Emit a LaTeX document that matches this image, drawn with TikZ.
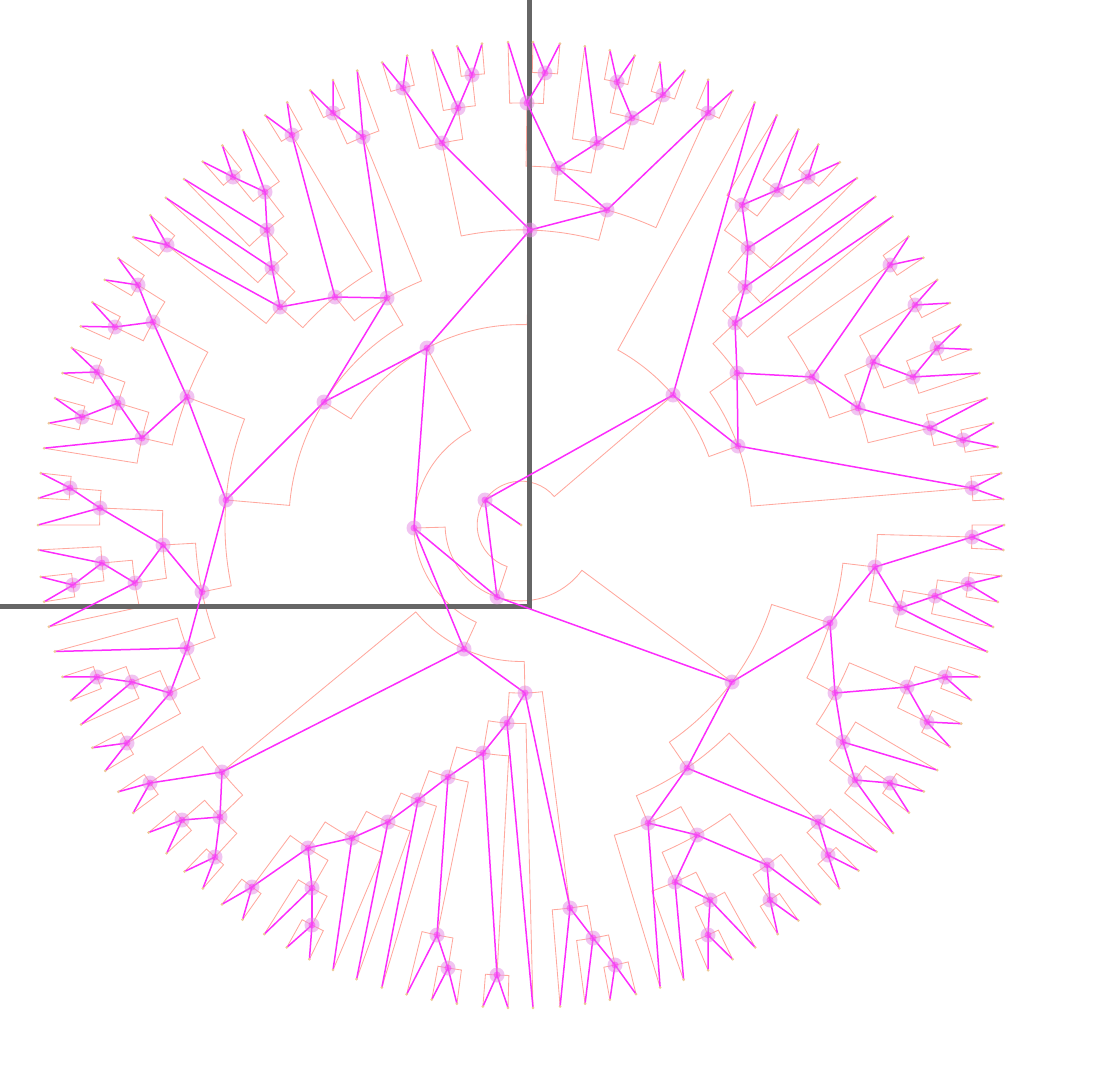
\documentclass[tikz,border=0pt]{standalone}
\usetikzlibrary{calc}
\pgfdeclarelayer{bg}\pgfdeclarelayer{fg}\pgfsetlayers{bg,main,fg}
\definecolor{magc}{RGB}{252,45,252}
\definecolor{salc}{RGB}{255,168,158}
\definecolor{blobc}{RGB}{228,135,228}
\definecolor{leafc}{RGB}{238,200,150}
\definecolor{axc}{RGB}{102,102,102}
\tikzset{
  mag/.style={draw=magc,line width=1.5pt},
  sal/.style={draw=salc,line width=0.85pt},
  blob/.style={fill=blobc,opacity=0.5},
  core/.style={fill=magc,opacity=0.5},
  leafdot/.style={fill=leafc},
  axisline/.style={draw=axc,line width=5pt}
}
\newcommand\TEdge[2]{%
  \begin{pgfonlayer}{bg}
  \draw[sal] let \p1=($(#2)-(O)$), \p2=($(#1)-(O)$),
    \n1={atan2(\y1,\x1)}, \n2={atan2(\y2,\x2)}, \n3={veclen(\x2,\y2)},
    \n4={mod(\n2-\n1+540,360)-180} in
    (#2) -- ($(O)+(\n1:\n3)$) arc[start angle=\n1, delta angle=\n4, radius=\n3];
  \end{pgfonlayer}
  \draw[mag] (#1) -- (#2);}
\newcommand\TNode[3]{%
  \coordinate (#1) at (#2);
  \TEdge{#3}{#1}%
  \begin{pgfonlayer}{fg}
  \fill[blob] (#1) circle (7.5pt);
  \fill[core] (#1) circle (3.5pt);
  \end{pgfonlayer}}
\newcommand\TLeaf[3]{%
  \coordinate (#1) at ($(O)!483pt!(#2)$);
  \TEdge{#3}{#1}%
  \begin{pgfonlayer}{fg}
  \fill[leafdot] (#1) circle (1.5pt);
  \end{pgfonlayer}}
\begin{document}
\begin{tikzpicture}[x=1pt,y=-1pt]
\useasboundingbox (0,0) rectangle (1102,1070);
% axes
\coordinate (ax1) at (529,0);
\coordinate (ax2) at (529,606);
\coordinate (ax3) at (0,606);
\draw[axisline] (ax1) -- (ax2) -- (ax3);
% root
\coordinate (O) at (521,525);
\coordinate (R) at (521,525);
\coordinate (a1) at (485,500);
\begin{pgfonlayer}{bg}\draw[sal] (a1) -- (R);\end{pgfonlayer}
\draw[mag] (R) -- (a1);
\begin{pgfonlayer}{fg}
\fill[blob] (a1) circle (7.5pt); \fill[core] (a1) circle (3.5pt);
\fill[leafdot] (R) circle (1.5pt);
\end{pgfonlayer}
% internal nodes
\TNode{b1}{673,395}{a1}
\TNode{b2}{497,597}{a1}
\TNode{c1}{414,528}{b2}
\TNode{c2}{732,682}{b2}
\TNode{d1}{427,348}{c1}
\TNode{d2}{464,649}{c1}
\TNode{e1}{324,402}{d1}
\TNode{e2}{530,230}{d1}
\TNode{f1}{442,143}{e2}
\TNode{f2}{607,210}{e2}
\TNode{g1}{558,168}{f2}
\TNode{g2}{708,113}{f2}
\TNode{h1}{527,103}{g1}
\TNode{h2}{597,143}{g1}
\TNode{h3}{545,73}{h1}
\TNode{h4}{632,118}{h2}
\TNode{h5}{617,82}{h4}
\TNode{h6}{663,95}{h4}
\TNode{f3}{403,88}{f1}
\TNode{f4}{458,108}{f1}
\TNode{f5}{472,75}{f4}
\TNode{k1}{387,298}{e1}
\TNode{k2}{226,500}{e1}
\TNode{k3}{363,137}{k1}
\TNode{k4}{333,113}{k3}
\TNode{k5}{335,297}{k1}
\TNode{k6}{292,135}{k5}
\TNode{k7}{280,307}{k5}
\TNode{k8}{272,268}{k7}
\TNode{k9}{267,230}{k8}
\TNode{k10}{265,192}{k9}
\TNode{k11}{233,177}{k10}
\TNode{k12}{167,245}{k7}
\TNode{m1}{187,397}{k2}
\TNode{m2}{153,322}{m1}
\TNode{m3}{138,285}{m2}
\TNode{m4}{115,327}{m2}
\TNode{m5}{142,438}{m1}
\TNode{m6}{118,403}{m5}
\TNode{m7}{97,372}{m6}
\TNode{m8}{82,417}{m6}
\TNode{m9}{202,592}{k2}
\TNode{m10}{163,545}{m9}
\TNode{m11}{100,508}{m10}
\TNode{m12}{70,488}{m11}
\TNode{m13}{135,583}{m10}
\TNode{m14}{102,563}{m13}
\TNode{m15}{73,585}{m14}
\TNode{m16}{187,648}{m9}
\TNode{m17}{170,693}{m16}
\TNode{m18}{132,682}{m17}
\TNode{m19}{97,677}{m18}
\TNode{m20}{127,743}{m17}
\TNode{n1}{222,772}{d2}
\TNode{n2}{150,783}{n1}
\TNode{n3}{220,817}{n1}
\TNode{n4}{182,820}{n3}
\TNode{n5}{215,857}{n3}
\TNode{p1}{525,693}{d2}
\TNode{p2}{507,723}{p1}
\TNode{p3}{483,753}{p2}
\TNode{p4}{448,777}{p3}
\TNode{p5}{418,800}{p4}
\TNode{p6}{388,822}{p5}
\TNode{p7}{352,838}{p6}
\TNode{p8}{308,848}{p7}
\TNode{p9}{252,887}{p8}
\TNode{p10}{312,888}{p8}
\TNode{p11}{312,925}{p10}
\TNode{p12}{437,935}{p4}
\TNode{p13}{448,968}{p12}
\TNode{p14}{497,975}{p3}
\TNode{p15}{570,908}{p1}
\TNode{p16}{593,938}{p15}
\TNode{p17}{615,965}{p16}
\TNode{q1}{830,623}{c2}
\TNode{q2}{875,567}{q1}
\TNode{q3}{972,537}{q2}
\TNode{q4}{900,608}{q2}
\TNode{q5}{935,596}{q4}
\TNode{q6}{968,584}{q5}
\TNode{q7}{835,693}{q1}
\TNode{q8}{907,687}{q7}
\TNode{q9}{945,677}{q8}
\TNode{q10}{927,722}{q8}
\TNode{q11}{843,742}{q7}
\TNode{q12}{855,780}{q11}
\TNode{q13}{890,783}{q12}
\TNode{s1}{687,768}{c2}
\TNode{s2}{648,823}{s1}
\TNode{s3}{697,835}{s2}
\TNode{s4}{675,882}{s3}
\TNode{s5}{710,900}{s4}
\TNode{s6}{708,935}{s5}
\TNode{s7}{767,865}{s3}
\TNode{s8}{770,900}{s7}
\TNode{s9}{818,822}{s1}
\TNode{s10}{828,855}{s9}
\TNode{t1}{738,446}{b1}
\TNode{t2}{972,488}{t1}
\TNode{t3}{737,373}{t1}
\TNode{t4}{735,323}{t3}
\TNode{t5}{745,287}{t4}
\TNode{t6}{748,248}{t5}
\TNode{t7}{742,205}{t6}
\TNode{t8}{777,190}{t7}
\TNode{t9}{808,177}{t8}
\TNode{u1}{812,377}{t3}
\TNode{u2}{890,265}{u1}
\TNode{u3}{858,408}{u1}
\TNode{u4}{873,362}{u3}
\TNode{u5}{915,305}{u4}
\TNode{u6}{913,377}{u4}
\TNode{u7}{937,348}{u6}
\TNode{u8}{930,428}{u3}
\TNode{u9}{963,440}{u8}
% leaves
\TLeaf{l1}{755,102}{b1}
\TLeaf{l2}{777,115}{t7}
\TLeaf{l3}{798,130}{t8}
\TLeaf{l4}{818,145}{t9}
\TLeaf{l5}{840,162}{t9}
\TLeaf{l6}{857,178}{t6}
\TLeaf{l7}{875,197}{t5}
\TLeaf{l8}{892,217}{t4}
\TLeaf{l9}{908,237}{u2}
\TLeaf{l10}{923,258}{u2}
\TLeaf{l11}{937,280}{u5}
\TLeaf{l12}{950,303}{u5}
\TLeaf{l13}{960,325}{u7}
\TLeaf{l14}{972,349}{u7}
\TLeaf{l15}{980,373}{u6}
\TLeaf{l16}{987,398}{u8}
\TLeaf{l17}{993,423}{u9}
\TLeaf{l18}{997,447}{u9}
\TLeaf{l19}{1002,473}{t2}
\TLeaf{l20}{1005,499}{t2}
\TLeaf{l21}{1005,525}{q3}
\TLeaf{l22}{1003,550}{q3}
\TLeaf{l23}{1002,576}{q6}
\TLeaf{l24}{998,602}{q6}
\TLeaf{l25}{993,627}{q5}
\TLeaf{l26}{988,652}{q4}
\TLeaf{l27}{980,677}{q9}
\TLeaf{l28}{971,700}{q9}
\TLeaf{l29}{962,724}{q10}
\TLeaf{l30}{950,747}{q10}
\TLeaf{l31}{937,770}{q11}
\TLeaf{l32}{923,791}{q13}
\TLeaf{l33}{908,812}{q13}
\TLeaf{l34}{893,833}{q12}
\TLeaf{l35}{877,852}{s9}
\TLeaf{l36}{858,870}{s10}
\TLeaf{l37}{838,887}{s10}
\TLeaf{l38}{820,904}{s7}
\TLeaf{l39}{798,920}{s8}
\TLeaf{l40}{777,933}{s8}
\TLeaf{l41}{755,947}{s5}
\TLeaf{l42}{732,958}{s6}
\TLeaf{l43}{708,970}{s6}
\TLeaf{l44}{683,978}{s4}
\TLeaf{l45}{660,987}{s2}
\TLeaf{l46}{636,994}{p17}
\TLeaf{l47}{610,1000}{p17}
\TLeaf{l48}{585,1003}{p16}
\TLeaf{l49}{560,1005}{p15}
\TLeaf{l50}{533,1007}{p2}
\TLeaf{l51}{508,1007}{p14}
\TLeaf{l52}{483,1005}{p14}
\TLeaf{l53}{457,1003}{p13}
\TLeaf{l54}{432,998}{p13}
\TLeaf{l55}{407,993}{p12}
\TLeaf{l56}{382,987}{p5}
\TLeaf{l57}{357,978}{p6}
\TLeaf{l58}{333,970}{p7}
\TLeaf{l59}{310,958}{p11}
\TLeaf{l60}{287,947}{p11}
\TLeaf{l61}{265,933}{p10}
\TLeaf{l62}{243,919}{p9}
\TLeaf{l63}{223,903}{p9}
\TLeaf{l64}{205,886}{n5}
\TLeaf{l65}{185,871}{n5}
\TLeaf{l66}{167,853}{n4}
\TLeaf{l67}{148,833}{n4}
\TLeaf{l68}{133,813}{n2}
\TLeaf{l69}{118,792}{n2}
\TLeaf{l70}{105,771}{m20}
\TLeaf{l71}{92,748}{m20}
\TLeaf{l72}{80,725}{m18}
\TLeaf{l73}{72,700}{m19}
\TLeaf{l74}{62,677}{m19}
\TLeaf{l75}{53,652}{m16}
\TLeaf{l76}{48,627}{m13}
\TLeaf{l77}{43,602}{m15}
\TLeaf{l78}{40,577}{m15}
\TLeaf{l79}{37,550}{m14}
\TLeaf{l80}{37,525}{m11}
\TLeaf{l81}{37,498}{m12}
\TLeaf{l82}{40,473}{m12}
\TLeaf{l83}{43,448}{m5}
\TLeaf{l84}{48,423}{m8}
\TLeaf{l85}{55,398}{m8}
\TLeaf{l86}{62,373}{m7}
\TLeaf{l87}{72,348}{m7}
\TLeaf{l88}{80,326}{m4}
\TLeaf{l89}{92,302}{m4}
\TLeaf{l90}{105,280}{m3}
\TLeaf{l91}{118,258}{m3}
\TLeaf{l92}{133,237}{k12}
\TLeaf{l93}{150,215}{k12}
\TLeaf{l94}{165,197}{k8}
\TLeaf{l95}{183,178}{k9}
\TLeaf{l96}{203,162}{k11}
\TLeaf{l97}{222,145}{k11}
\TLeaf{l98}{243,130}{k10}
\TLeaf{l99}{265,115}{k6}
\TLeaf{l100}{287,102}{k6}
\TLeaf{l101}{310,90}{k4}
\TLeaf{l102}{333,80}{k4}
\TLeaf{l103}{357,70}{k3}
\TLeaf{l104}{382,62}{f3}
\TLeaf{l105}{407,55}{f3}
\TLeaf{l106}{432,50}{f4}
\TLeaf{l107}{457,45}{f5}
\TLeaf{l108}{482,43}{f5}
\TLeaf{l109}{508,42}{h1}
\TLeaf{l110}{533,42}{h3}
\TLeaf{l111}{560,43}{h3}
\TLeaf{l112}{585,45}{h2}
\TLeaf{l113}{610,50}{h5}
\TLeaf{l114}{635,55}{h5}
\TLeaf{l115}{660,62}{h6}
\TLeaf{l116}{685,70}{h6}
\TLeaf{l117}{708,80}{g2}
\TLeaf{l118}{732,92}{g2}
\end{tikzpicture}
\end{document}
